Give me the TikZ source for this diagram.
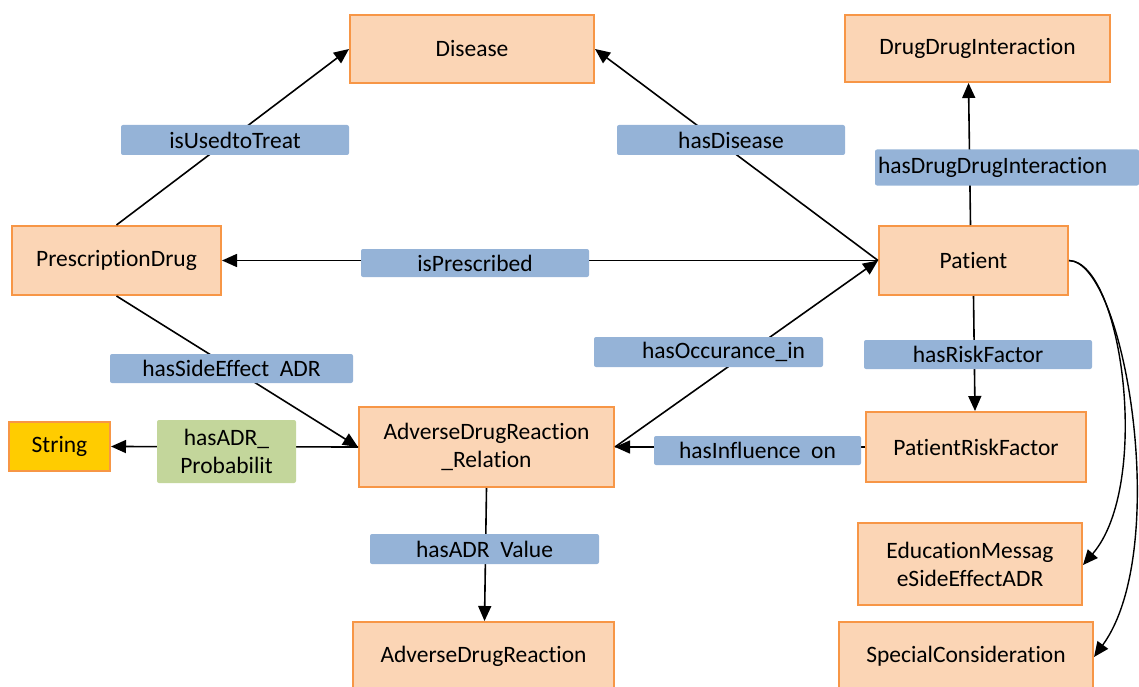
\documentclass[tikz,border=0pt]{standalone}
\usepackage{fontspec}
\setmainfont[RawFeature={-liga;-clig}]{Carlito}
\usetikzlibrary{arrows.meta}
\definecolor{boxfill}{HTML}{FBD5B5}
\definecolor{boxline}{HTML}{F79646}
\definecolor{lblblue}{HTML}{95B3D7}
\definecolor{lblgreen}{HTML}{C3D69B}
\definecolor{strfill}{HTML}{FFCC00}
\tikzset{
  cls/.style={draw=boxline, line width=2pt, fill=boxfill, inner sep=0pt, align=center, font=\fontsize{23.5}{28}\selectfont},
  lbl/.style={fill=lblblue, rounded corners=2pt, inner sep=0pt, align=center, font=\fontsize{23.5}{28}\selectfont},
  conn/.style={line width=1.6pt, -{Triangle[length=15pt,width=13pt]}},
  plain/.style={line width=1.6pt}
}
\begin{document}
\begin{tikzpicture}[x=1pt,y=-1pt]
\useasboundingbox (0,0) rectangle (1139,687);
\clip (0,0) rectangle (1139,687);
% classes
\node[cls, minimum width=244pt, minimum height=68pt] (dis) at (472,49) {Disease};
\node[cls, minimum width=265pt, minimum height=67pt] (ddi) at (977.5,48.5) {DrugDrugInteraction};
\node[cls, minimum width=209pt, minimum height=69pt] (pd) at (116.5,260.5) {PrescriptionDrug};
\node[cls, minimum width=189pt, minimum height=69pt] (pat) at (973.5,260.5) {Patient};
\node[cls, minimum width=255pt, minimum height=80pt] (rel) at (486.5,447) {AdverseDrugReaction\\\_Relation};
\node[cls, minimum width=220pt, minimum height=70pt] (prf) at (976,447) {PatientRiskFactor};
\node[cls, fill=strfill, minimum width=101pt, minimum height=49pt] (str) at (59.5,446.5) {String};
\node[cls, minimum width=224pt, minimum height=82pt] (edu) at (970,564) {EducationMessag\\eSideEffectADR};
\node[cls, minimum width=261pt, minimum height=68pt] (adr) at (483.5,656) {AdverseDrugReaction};
\node[cls, minimum width=254pt, minimum height=68pt] (spc) at (966,656) {SpecialConsideration};
% connectors
\draw[conn] (pd.north) -- (dis.west);
\draw[conn] (pat.west) -- (dis.east);
\draw[conn] ([xshift=-3pt]pat.north) -- ([xshift=-9pt]ddi.south);
\draw[conn] (pat.west) -- (pd.east);
\draw[conn] (pd.south) -- (rel.west);
\draw[conn] (rel.east) -- (pat.west);
\draw[conn] (pat.south) -- ([xshift=-1pt]prf.north);
\draw[conn] (prf.west) -- (rel.east);
\draw[conn] (rel.south) -- ([xshift=1pt]adr.north);
\draw[conn] (rel.west) -- (str.east);
\draw[line width=1.4pt, -{Triangle[length=15pt,width=13pt]}] (pat.east) .. controls (1122,262) and (1152,485) .. ([yshift=-1pt]edu.east);
\draw[line width=1.4pt, -{Triangle[length=15pt,width=13pt]}] (pat.east) .. controls (1125,262) and (1172,550) .. ([yshift=-1pt]spc.east);
% labels
\node[lbl, minimum width=228pt, minimum height=30pt] (l1) at (235,140) {isUsedtoTreat};
\node[lbl, minimum width=228pt, minimum height=30pt] (l2) at (731,140) {hasDisease};
\node[lbl, minimum width=264pt, minimum height=36pt, text width=258pt, align=left] (l3) at (1007,167.5) {hasDrugDrugInteraction};
\node[lbl, minimum width=228pt, minimum height=28pt] (l4) at (475,263) {isPrescribed};
\node[lbl, minimum width=243pt, minimum height=29pt] (l5) at (231.5,368.5) {hasSideEffect\ \ ADR};
\node[lbl, minimum width=229pt, minimum height=30pt] (l6) at (708.5,352) {\hspace*{30pt}hasOccurance\_in};
\node[lbl, minimum width=228pt, minimum height=29pt] (l7) at (978,354.5) {hasRiskFactor};
\node[lbl, minimum width=207pt, minimum height=29pt] (l8) at (757.5,450.5) {hasInfluence\ \ on};
\node[lbl, minimum width=229pt, minimum height=30pt] (l9) at (484.5,549) {hasADR\ \ Value};
\node[lbl, fill=lblgreen, minimum width=139pt, minimum height=63pt] (l10) at (226.5,451.5) {hasADR\_\\Probabilit};
\end{tikzpicture}
\end{document}
